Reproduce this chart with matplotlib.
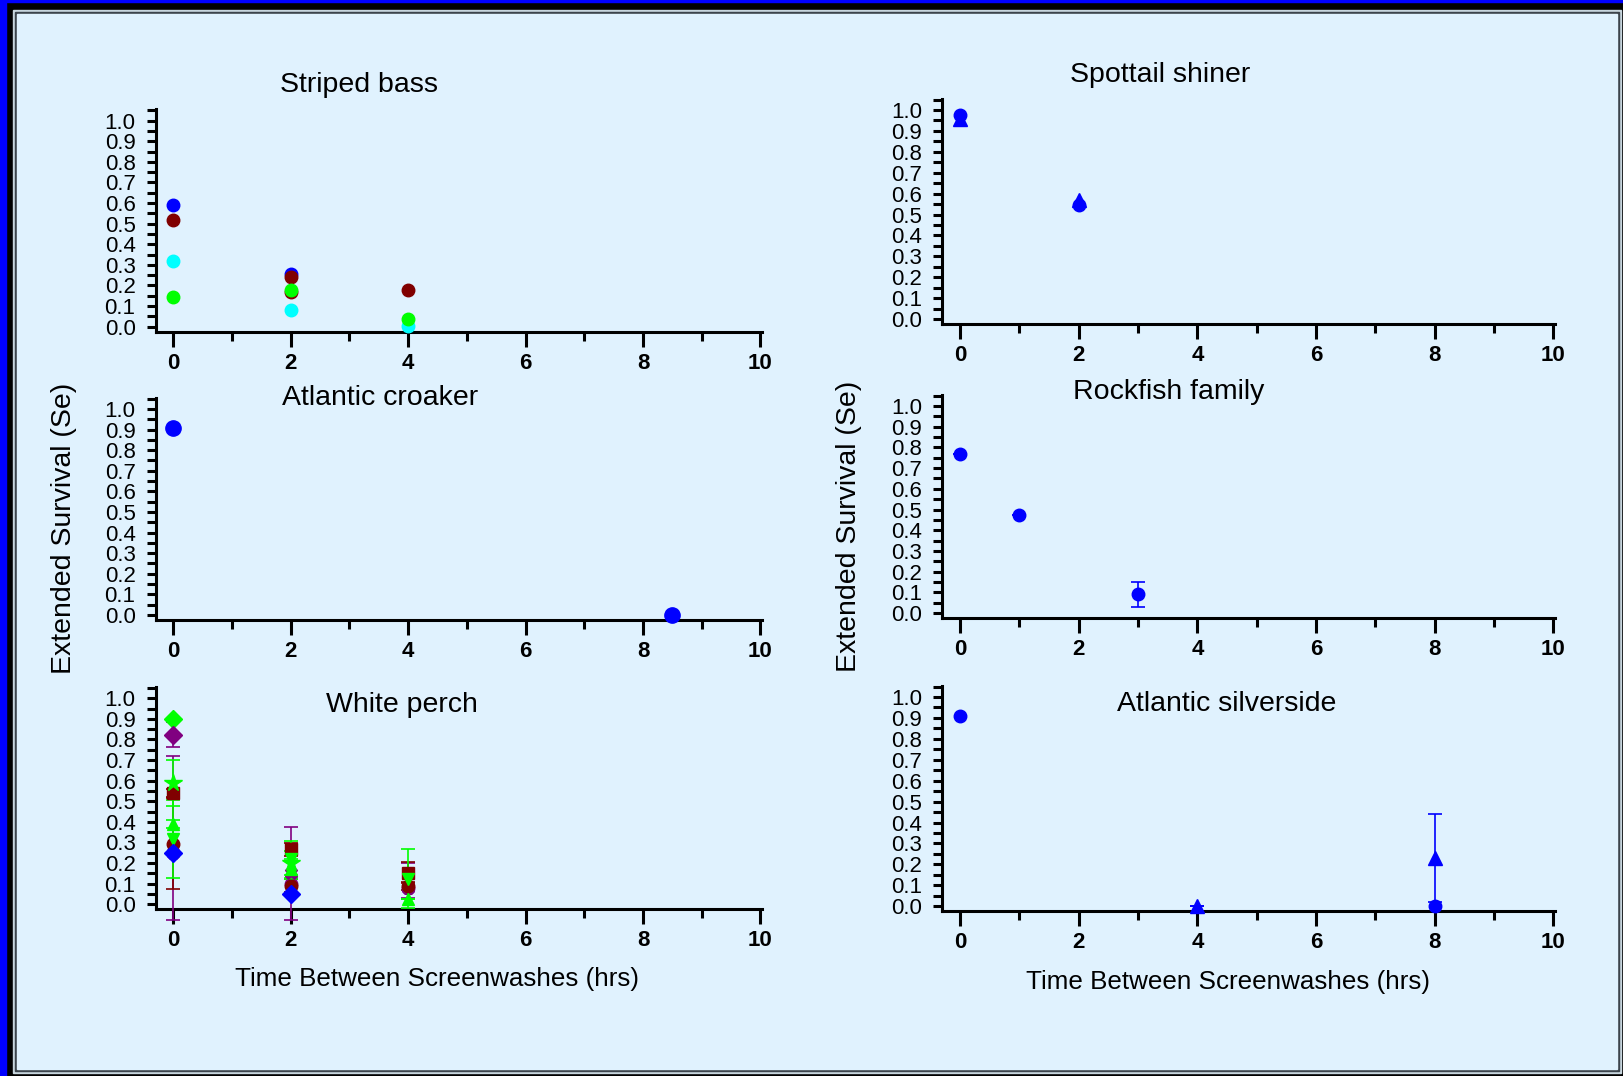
import matplotlib.pyplot as plt
from matplotlib.patches import Rectangle
from matplotlib.ticker import MultipleLocator

plt.rcParams['font.family'] = ['Liberation Sans', 'DejaVu Sans']

# ---- data ----
# Striped bass (circles, four groups)
sb_x = [0, 2, 4]
sb_blue = [0.59, 0.255, None]
sb_red = [0.52, 0.242, 0.18]
sb_red2_x = [2]
sb_red2 = [0.168]
sb_cyan = [0.32, 0.082, 0.005]
sb_green = [0.142, 0.18, 0.035]

# Atlantic croaker
ac_x = [0, 8.5]
ac_y = [0.91, 0.0]

# White perch
wp_blue_dia_x, wp_blue_dia = [0, 2], [0.25, 0.05]
wp_pur_x_x, wp_pur_x = [0, 2, 4], [0.25, 0.153, 0.08]
wp_pur_x_lo, wp_pur_x_hi = [0.325, 0.23, 0.05], [0.47, 0.22, 0.12]
wp_red_circ_x, wp_red_circ, wp_red_circ_err = [0, 2, 4], [0.294, 0.09, 0.09], [0.22, 0.03, 0.02]
wp_red_sq_x, wp_red_sq, wp_red_sq_err = [0, 2, 4], [0.54, 0.266, 0.153], [0.02, 0.03, 0.05]
wp_pur_dia_x, wp_pur_dia, wp_pur_dia_err = [0], [0.823], [0.06]
wp_grn_dia_x, wp_grn_dia = [0], [0.90]
wp_grn_star_x, wp_grn_star, wp_grn_star_err = [0, 2], [0.589, 0.20], [0.11, 0.06]
wp_grn_up_x, wp_grn_up, wp_grn_up_err = [0, 2, 4], [0.39, 0.17, 0.024], [0.02, 0.05, 0.0]
wp_grn_dn_x, wp_grn_dn, wp_grn_dn_err = [0, 2, 4], [0.318, 0.218, 0.124], [0.19, 0.09, 0.145]
wp_pur_circ_x, wp_pur_circ = [2, 4], [0.097, 0.08]

# Spottail shiner
ss_x = [0, 2]
ss_circ = [0.976, 0.545]
ss_tri = [0.958, 0.57]

# Rockfish family
rf_x = [0, 1, 3]
rf_y = [0.77, 0.472, 0.09]
rf_err = [0, 0, 0.06]

# Atlantic silverside
as_circ_x, as_circ = [0, 8], [0.91, 0.0]
as_tri_x, as_tri, as_tri_err = [4, 8], [0.0, 0.23], [0.0, 0.21]

BLUE, RED, CYAN, GREEN, PURPLE = '#0000ff', '#800000', '#00ffff', '#00ff00', '#800080'
BG = '#e0f2fe'

W, H = 1624, 1076
fig = plt.figure(figsize=(W / 100, H / 100), dpi=100, facecolor='black')


def rect(x0, y0, x1, y1, color):
    # pixel coords, y measured from top
    fig.patches.append(Rectangle((x0 / W, 1 - y1 / H), (x1 - x0) / W, (y1 - y0) / H,
                                 transform=fig.transFigure, color=color, zorder=-5))


# frame
rect(0, 0, 6, H, BLUE)
rect(0, 0, W, 2, BLUE)
rect(13, 10, 1621, 1073, '#c8d6de')
rect(15, 12, 1619, 1071, '#3c444c')
rect(17, 14, 1617, 1069, BG)


def make_ax(left, right, top, bottom):
    ax = fig.add_axes([left / W, 1 - bottom / H, (right - left) / W, (bottom - top) / H])
    ax.set_facecolor('none')
    ax.set_xlim(-0.3, 10.02)
    ax.set_ylim(-0.025, 1.055)
    for s in ['top', 'right']:
        ax.spines[s].set_visible(False)
    for s in ['left', 'bottom']:
        ax.spines[s].set_linewidth(2.2)
    ax.xaxis.set_major_locator(MultipleLocator(2))
    ax.xaxis.set_minor_locator(MultipleLocator(1))
    ax.yaxis.set_minor_locator(MultipleLocator(0.05))
    ax.set_yticks([i / 10 for i in range(11)])
    ax.set_yticklabels(['%.1f' % (i / 10) for i in range(11)])
    ax.tick_params(axis='x', which='major', length=11, width=2.2, pad=4, labelsize=16)
    ax.tick_params(axis='x', which='minor', length=6.5, width=2.2)
    ax.tick_params(axis='y', which='both', length=6.5, width=2.2, pad=8, labelsize=16)
    for lab in ax.get_xticklabels():
        lab.set_fontweight('bold')
    return ax


def pts(ax, x, y, marker, color, ms=9, zorder=3):
    ax.plot(x, y, linestyle='none', marker=marker, color=color, mec=color, ms=ms,
            zorder=zorder, clip_on=False)


def ebar(ax, x, y, err, marker, color, ms=9, zorder=3):
    ax.errorbar(x, y, yerr=err, fmt=marker, color=color, mec=color, ms=ms, elinewidth=1.2,
                capsize=5, capthick=1.2, zorder=zorder, clip_on=False)


# Striped bass
ax1 = make_ax(155.7, 761.6, 109.4, 331.7)
pts(ax1, sb_x, sb_blue, 'o', BLUE)
pts(ax1, sb_x, sb_red, 'o', RED, zorder=4)
pts(ax1, sb_red2_x, sb_red2, 'o', RED)
pts(ax1, sb_x, sb_cyan, 'o', CYAN)
pts(ax1, sb_x, sb_green, 'o', GREEN, zorder=4)

# Atlantic croaker
ax2 = make_ax(155.7, 761.6, 397.7, 620.0)
pts(ax2, ac_x, ac_y, 'o', BLUE, ms=11)

# White perch
ax3 = make_ax(155.7, 761.6, 687.0, 909.3)
ebar(ax3, wp_pur_x_x, wp_pur_x, [wp_pur_x_lo, wp_pur_x_hi], 'X', PURPLE)
ebar(ax3, wp_red_circ_x, wp_red_circ, wp_red_circ_err, 'o', RED)
ebar(ax3, wp_red_sq_x, wp_red_sq, wp_red_sq_err, 's', RED)
ebar(ax3, wp_pur_dia_x, wp_pur_dia, wp_pur_dia_err, 'D', PURPLE)
pts(ax3, wp_pur_circ_x, wp_pur_circ, 'o', PURPLE)
ebar(ax3, wp_grn_star_x, wp_grn_star, wp_grn_star_err, '*', GREEN, ms=13)
ebar(ax3, wp_grn_up_x, wp_grn_up, wp_grn_up_err, '^', GREEN)
ebar(ax3, wp_grn_dn_x, wp_grn_dn, wp_grn_dn_err, 'v', GREEN)
pts(ax3, wp_grn_dia_x, wp_grn_dia, 'D', GREEN)
pts(ax3, wp_blue_dia_x, wp_blue_dia, 'D', BLUE, zorder=5)

# Spottail shiner
ax4 = make_ax(942.3, 1554.6, 98.5, 324.3)
pts(ax4, ss_x, ss_tri, '^', BLUE, ms=10)
pts(ax4, ss_x, ss_circ, 'o', BLUE)

# Rockfish family
ax5 = make_ax(942.3, 1554.6, 394.6, 618.3)
ebar(ax5, rf_x, rf_y, rf_err, 'o', BLUE)

# Atlantic silverside
ax6 = make_ax(942.3, 1554.6, 685.5, 911.4)
pts(ax6, as_circ_x, as_circ, 'o', BLUE)
ebar(ax6, as_tri_x, as_tri, as_tri_err, '^', BLUE, ms=10)

# titles and axis labels (pixel positions)
def ftext(x, y, s, **kw):
    fig.text(x / W, 1 - y / H, s, ha='center', va='center', **kw)


ftext(359.4, 84.9, 'Striped bass', fontsize=20.5)
ftext(380.1, 397.7, 'Atlantic croaker', fontsize=20.5)
ftext(401.9, 705.3, 'White perch', fontsize=20.5)
ftext(1160.0, 74.6, 'Spottail shiner', fontsize=20.5)
ftext(1168.3, 391.5, 'Rockfish family', fontsize=20.5)
ftext(1226.3, 704.3, 'Atlantic silverside', fontsize=20.5)

ftext(64.2, 528, 'Extended Survival (Se)', fontsize=20.5, rotation=90)
ftext(849.3, 526, 'Extended Survival (Se)', fontsize=20.5, rotation=90)
ftext(437.0, 978.8, 'Time Between Screenwashes (hrs)', fontsize=18.7)
ftext(1228.4, 981.9, 'Time Between Screenwashes (hrs)', fontsize=18.7)

fig.savefig('out.png', dpi=100, facecolor=fig.get_facecolor())
